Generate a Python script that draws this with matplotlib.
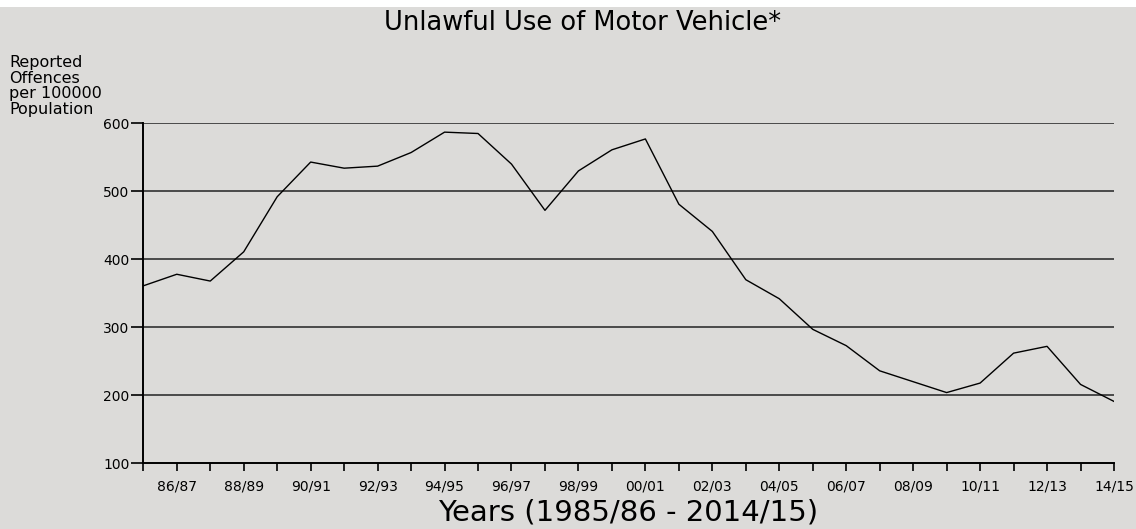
import matplotlib

matplotlib.use("Agg")
import matplotlib.pyplot as plt
from matplotlib.patches import Rectangle


SEASONS = [
    "85/86", "86/87", "87/88", "88/89", "89/90", "90/91", "91/92", "92/93",
    "93/94", "94/95", "95/96", "96/97", "97/98", "98/99", "99/00", "00/01",
    "01/02", "02/03", "03/04", "04/05", "05/06", "06/07", "07/08", "08/09",
    "09/10", "10/11", "11/12", "12/13", "13/14", "14/15",
]
OFFENCES = [
    361, 378, 368, 411, 492, 543, 534, 537, 557, 587,
    585, 540, 472, 530, 561, 577, 481, 441, 370, 342,
    297, 273, 236, 220, 204, 218, 262, 272, 216, 191,
]
Y_TICKS = [100, 200, 300, 400, 500, 600]

BG = "#dcdbd9"
FONT = "DejaVu Sans"

fig = plt.figure(figsize=(11.36, 5.29), dpi=100, facecolor=BG)
fig.patches.append(Rectangle((0, 1 - 7 / 529), 1, 7 / 529, transform=fig.transFigure,
                             facecolor="white", edgecolor="none", zorder=0))
ax = fig.add_axes([143.3 / 1136, 1 - 463.3 / 529, (1114 - 143.3) / 1136, (463.3 - 123.3) / 529])
ax.set_facecolor(BG)

x = list(range(len(SEASONS)))
ax.plot(x, OFFENCES, color="black", linewidth=1.0, zorder=3)

for v in Y_TICKS[1:]:
    ax.axhline(v, color="#4a4a4a", linewidth=1.4, zorder=1)

ax.set_xlim(0, len(SEASONS) - 1)
ax.set_ylim(100, 600)
ax.set_yticks(Y_TICKS)
ax.set_yticklabels([str(v) for v in Y_TICKS], fontsize=10, family=FONT)
ax.set_xticks(x)
ax.set_xticklabels([s if i % 2 == 1 else "" for i, s in enumerate(SEASONS)],
                   fontsize=10, family=FONT)
ax.tick_params(axis="x", length=6, width=1.2, pad=6, colors="black")
ax.tick_params(axis="y", length=9, width=1.2, pad=1, colors="black")

for side in ("top", "right"):
    ax.spines[side].set_visible(False)
for side in ("left", "bottom"):
    ax.spines[side].set_linewidth(1.4)
    ax.spines[side].set_color("black")

fig.text(583 / 1136, 1 - 23 / 529, "Unlawful Use of Motor Vehicle*", ha="center", va="center",
         fontsize=18.5, family=FONT)
fig.text(628 / 1136, 1 - 512 / 529, "Years (1985/86 - 2014/15)", ha="center", va="center",
         fontsize=21, family=FONT)
fig.text(9 / 1136, 1 - 55 / 529, "Reported\nOffences\nper 100000\nPopulation", ha="left", va="top",
         fontsize=11.5, family=FONT, linespacing=1.05)

fig.savefig("out.png", dpi=100, facecolor=BG)
